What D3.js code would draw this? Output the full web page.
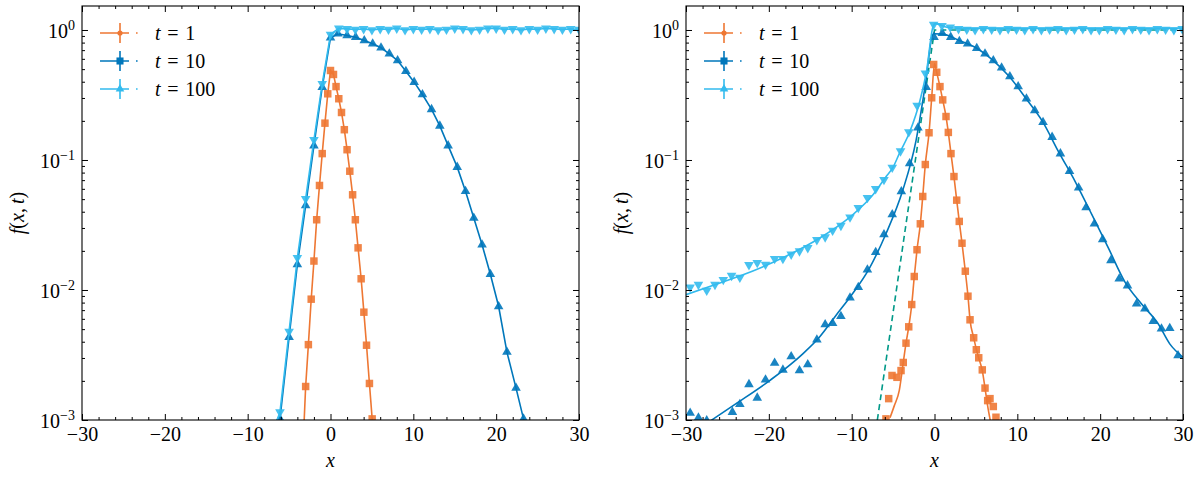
<!DOCTYPE html>
<html>
<head>
<meta charset="utf-8">
<script src="https://cdn.jsdelivr.net/npm/d3@7"></script>
<style>
  body { margin: 0; background: #fff; }
  svg text { font-family: "Liberation Serif", "DejaVu Serif", serif; fill: #000; }
</style>
</head>
<body>
<svg id="chart" width="1200" height="478"></svg>
<script>
// --- Data ---
const xTicks = [-30, -20, -10, 0, 10, 20, 30];
const xMinorTicks = d3.range(-30, 31, 2).filter(v => v % 10 !== 0);
const yTicks = [1e-3, 1e-2, 1e-1, 1];
const yTickExps = ["−3", "−2", "−1", "0"];
const yMinorTicks = [1e-3, 1e-2, 1e-1, 1].flatMap(d => d3.range(2, 10).map(m => m * d));
const legendLabels = ["1", "10", "100"];
const colors = ["#EE7733", "#0077BB", "#33BBEE"];
const dashColor = "#009988";

// left panel: lines through the points
const leftT1 = [[-3.33, 0.0006], [-3, 0.00181], [-2.67, 0.0038], [-2.33, 0.0085], [-2, 0.0167], [-1.67, 0.0347],
  [-1.33, 0.0637], [-1, 0.112], [-0.67, 0.192], [-0.33, 0.323], [0, 0.488], [0.36, 0.455], [0.67, 0.367],
  [1, 0.296], [1.33, 0.232], [1.67, 0.171], [2, 0.12], [2.33, 0.082], [2.67, 0.054], [3, 0.0347],
  [3.33, 0.0211], [3.7, 0.0122], [4.03, 0.00675], [4.35, 0.00376], [4.7, 0.00191], [5.03, 0.00102], [5.33, 0.0005]];
const leftT10 = [[-7, 0.0006], [-6.1, 0.00102], [-5, 0.00433], [-4, 0.0157], [-3, 0.0447], [-2, 0.129], [-1, 0.363],
  [0, 0.871], [0.9, 0.935], [2, 0.907], [3.04, 0.881], [4.08, 0.83], [5.09, 0.783], [6.1, 0.73], [7.1, 0.656],
  [8.1, 0.582], [9.1, 0.482], [10.1, 0.397], [11.1, 0.319], [12.2, 0.245], [13.2, 0.183], [14.2, 0.129],
  [15.3, 0.0881], [16.3, 0.0575], [17.3, 0.0358], [18.3, 0.0223], [19.3, 0.0132], [20.3, 0.00746],
  [21.3, 0.00333], [22.4, 0.00176], [23.3, 0.00102], [24.3, 0.0005]];
const leftT100 = [[-7, 0.0008], [-6.1, 0.00115], [-5, 0.0048], [-4, 0.0177], [-3, 0.0503], [-2, 0.143], [-1, 0.386],
  [0, 0.923], [1, 1.03], [2, 1.02], [3, 1.01], [4, 1.02], [5, 1.0], [6, 1.02], [7, 1.01], [8, 1.03], [9, 1.0],
  [10, 1.02], [11, 1.01], [12, 1.02], [13, 1.0], [14, 1.01], [15, 1.03], [16, 1.02], [17, 1.0], [18, 1.01],
  [19, 1.03], [20, 1.03], [21, 1.01], [22, 1.02], [23, 1.0], [24, 1.02], [25, 1.01], [26, 1.03], [27, 1.02],
  [28, 1.01], [29, 1.02], [30, 1.01]];

// right panel: scattered points plus fitted curves
const rightT1 = [[-5.86, 0.00102], [-5.53, 0.00146], [-5.13, 0.0022], [-4.53, 0.00213], [-4.04, 0.0024],
  [-3.77, 0.00277], [-3.44, 0.0039], [-3.11, 0.00521], [-2.75, 0.00773], [-2.44, 0.0127], [-2.11, 0.0204],
  [-1.71, 0.0323], [-1.42, 0.0524], [-1.11, 0.0923], [-0.66, 0.162], [-0.34, 0.301], [-0.1, 0.543],
  [0.27, 0.473], [0.66, 0.367], [0.99, 0.29], [1.39, 0.216], [1.67, 0.163], [1.99, 0.112], [2.35, 0.0746],
  [2.68, 0.0491], [2.99, 0.0337], [3.32, 0.0229], [3.72, 0.01395], [4.04, 0.00896], [4.29, 0.0059],
  [4.73, 0.00429], [5.05, 0.00347], [5.34, 0.00301], [5.77, 0.00243], [6.1, 0.00176], [6.42, 0.00141],
  [6.7, 0.00146], [7.1, 0.00127], [7.42, 0.00105]];
const rightT10 = [[-29.5, 0.00113], [-28.5, 0.00104], [-27.5, 0.00099], [-24.4, 0.00115], [-23.5, 0.00132],
  [-22.4, 0.00188], [-21.4, 0.00148], [-20.4, 0.00204], [-19.3, 0.00274], [-18.3, 0.00243], [-17.3, 0.00308],
  [-16.3, 0.0024], [-15.3, 0.00267], [-14.2, 0.00414], [-13.2, 0.00543], [-12.3, 0.00555], [-11.3, 0.00629],
  [-10.2, 0.00871], [-9.2, 0.0105], [-8.1, 0.0143], [-7.1, 0.0195], [-6.1, 0.0267], [-5.1, 0.0381],
  [-4.0, 0.0572], [-3.0, 0.094], [-2.0, 0.177], [-1.0, 0.363], [-0.06, 0.881], [0.94, 0.945], [1.96, 0.881],
  [3.0, 0.82], [4.0, 0.783], [5.1, 0.724], [6.1, 0.656], [7.1, 0.582], [8.1, 0.512], [9.1, 0.439],
  [10.1, 0.367], [11.1, 0.296], [12.1, 0.24], [13.1, 0.195], [14.2, 0.15], [15.2, 0.112], [16.3, 0.082],
  [17.4, 0.0611], [18.3, 0.0431], [19.3, 0.0323], [20.3, 0.0245], [21.3, 0.0169], [22.3, 0.0122],
  [23.3, 0.0108], [24.4, 0.00783], [25.4, 0.00717], [26.4, 0.00575], [27.4, 0.00503], [28.4, 0.00508],
  [29.4, 0.00313]];
const rightT100 = [[-29.5, 0.0105], [-28.5, 0.011], [-27.5, 0.0099], [-26.5, 0.011], [-25.5, 0.012], [-24.5, 0.0129],
  [-23.5, 0.0125], [-22.4, 0.0156], [-21.4, 0.0162], [-20.4, 0.0157], [-19.3, 0.0174], [-18.3, 0.0174],
  [-17.3, 0.0188], [-16.3, 0.0199], [-15.3, 0.0211], [-14.2, 0.0243], [-13.2, 0.0255], [-12.3, 0.0287],
  [-11.3, 0.0313], [-10.2, 0.0363], [-9.2, 0.0429], [-8.1, 0.0512], [-7.1, 0.06], [-6.1, 0.0704],
  [-5.1, 0.0875], [-4.1, 0.117], [-3.1, 0.164], [-2.1, 0.263], [-1.1, 0.465], [-0.1, 1.1], [0.9, 1.08],
  [1.9, 1.05], [2.9, 1.02], [3.9, 1.01], [4.9, 1.0], [5.9, 1.02], [6.9, 1.01], [7.9, 1.0], [8.9, 1.02],
  [9.9, 1.01], [10.9, 1.0], [11.9, 1.02], [12.9, 1.0], [13.9, 1.01], [14.9, 1.02], [15.9, 1.0], [16.9, 1.01],
  [17.9, 1.02], [18.9, 1.0], [19.9, 1.0], [20.9, 1.02], [21.9, 1.01], [22.9, 1.0], [23.9, 1.02], [24.9, 1.01],
  [25.9, 1.0], [26.9, 1.02], [27.9, 1.01], [28.9, 1.0], [29.9, 1.02]];

const fitT1 = [[-5.37, 0.00104], [-4.85, 0.00129], [-4.25, 0.00169], [-3.77, 0.00277], [-3.44, 0.0039],
  [-3.11, 0.0052], [-2.75, 0.0077], [-2.44, 0.0127], [-2.11, 0.0204], [-1.71, 0.0323], [-1.42, 0.0524],
  [-1.11, 0.0923], [-0.66, 0.162], [-0.34, 0.3], [0, 0.55], [0.27, 0.47], [0.66, 0.367], [0.99, 0.29],
  [1.39, 0.216], [1.67, 0.163], [1.99, 0.112], [2.35, 0.0746], [2.68, 0.0491], [2.99, 0.0337], [3.32, 0.0229],
  [3.72, 0.01395], [4.04, 0.009], [4.29, 0.0059], [4.73, 0.0043], [5.05, 0.0035], [5.34, 0.003],
  [5.77, 0.0024], [6.1, 0.00176], [6.4, 0.0013], [6.75, 0.00098]];
const fitT10 = [[-27, 0.00099], [-24, 0.00133], [-19.9, 0.00201], [-15.9, 0.00323], [-13.9, 0.00433],
  [-11.9, 0.00637], [-9.9, 0.00935], [-7.9, 0.01455], [-5.86, 0.0271], [-3.84, 0.0582], [-2.23, 0.141],
  [-1.15, 0.363], [-0.14, 0.935], [1, 0.93], [3, 0.83], [5, 0.73], [7, 0.59], [9, 0.44], [11, 0.3], [13, 0.2],
  [15, 0.115], [17, 0.068], [19, 0.038], [21, 0.021], [23, 0.0115], [25, 0.0078], [27, 0.0055],
  [28.4, 0.00385], [30, 0.00304]];
const fitT100 = [[-30, 0.0092], [-26, 0.01128], [-22, 0.01395], [-18, 0.0181], [-14, 0.0248], [-10, 0.0374],
  [-7.5, 0.0533], [-5.9, 0.0738], [-5, 0.088], [-4.25, 0.112], [-3, 0.164], [-1.75, 0.287], [-0.95, 0.488],
  [-0.2, 1.05], [0.1, 1.12], [1.5, 1.05], [3, 1.03], [30, 1.03]];
const dashedRef = [[-6.9, 0.001], [-5, 0.0067], [-3, 0.05], [-1, 0.37], [0, 1.0], [30, 1.0]];

// --- Layout ---
const svg = d3.select('#chart');
const W = 497, TOP = 6, BOTTOM = 420;
const FONT = 20;
const xDomain = [-30, 30];
const yDomain = [1e-3, Math.pow(10, 0.1846)];
const markers = [
  d3.symbol().type(d3.symbolSquare).size(56),
  d3.symbol().type(d3.symbolTriangle).size(40),
  d3.symbol().type(d3.symbolTriangle).size(40)
];

function drawPanel(id, left, pointSets, fitSets, dashed) {
  const x = d3.scaleLinear().domain(xDomain).range([left, left + W]);
  const y = d3.scaleLog().domain(yDomain).range([BOTTOM, TOP]);
  const g = svg.append('g');

  svg.append('clipPath').attr('id', 'clip' + id)
    .append('rect').attr('x', left).attr('y', TOP).attr('width', W).attr('height', BOTTOM - TOP);
  const plot = g.append('g').attr('clip-path', `url(#clip${id})`);

  const line = d3.line().x(d => x(d[0])).y(d => y(d[1]));
  const smooth = d3.line().x(d => x(d[0])).y(d => y(d[1])).curve(d3.curveMonotoneX);

  if (dashed) {
    plot.append('path').attr('d', line(dashed))
      .attr('fill', 'none').attr('stroke', dashColor).attr('stroke-width', 1.6)
      .attr('stroke-dasharray', '6,4');
  }

  pointSets.forEach((pts, i) => {
    if (!fitSets) {
      plot.append('path').attr('d', line(pts))
        .attr('fill', 'none').attr('stroke', colors[i]).attr('stroke-width', 1.6);
    }
    plot.selectAll(null).data(pts).join('path')
      .attr('d', markers[i])
      .attr('transform', d => `translate(${x(d[0])},${y(d[1])})` + (i === 2 ? ' rotate(180)' : ''))
      .attr('fill', colors[i]).attr('fill-opacity', 0.9);
    if (fitSets) {
      plot.append('path').attr('d', smooth(fitSets[i]))
        .attr('fill', 'none').attr('stroke', colors[i]).attr('stroke-width', 1.6);
    }
  });

  // --- Axes: inward ticks on all sides ---
  const axes = g.append('g').attr('class', 'axes');
  const addAxis = (axis, tx, ty) => axes.append('g').attr('transform', `translate(${tx},${ty})`).call(axis);
  const style = sel => {
    sel.select('.domain').remove();
    sel.selectAll('line').attr('stroke', '#000').attr('stroke-width', 1);
  };

  addAxis(d3.axisBottom(x).tickValues(xTicks).tickSize(-6).tickPadding(7)
    .tickFormat(d => d < 0 ? '−' + Math.abs(d) : d), 0, BOTTOM)
    .call(style).selectAll('text').attr('font-size', FONT).attr('fill', '#000').attr('font-family', null);
  addAxis(d3.axisBottom(x).tickValues(xMinorTicks).tickSize(-3).tickFormat(''), 0, BOTTOM).call(style);
  addAxis(d3.axisTop(x).tickValues(xTicks).tickSize(-6).tickFormat(''), 0, TOP).call(style);
  addAxis(d3.axisTop(x).tickValues(xMinorTicks).tickSize(-3).tickFormat(''), 0, TOP).call(style);

  const yl = addAxis(d3.axisLeft(y).tickValues(yTicks).tickSize(-6).tickFormat(''), left, 0).call(style);
  yl.selectAll('.tick text')
    .attr('font-size', FONT).attr('fill', '#000').attr('font-family', null)
    .attr('dy', '0.36em').attr('x', -7).attr('text-anchor', 'end')
    .each(function(d, i) {
      const t = d3.select(this);
      t.text('10');
      t.append('tspan').attr('dy', -8).attr('font-size', 14).text(yTickExps[i]);
    });
  addAxis(d3.axisLeft(y).tickValues(yMinorTicks).tickSize(-3).tickFormat(''), left, 0).call(style);
  addAxis(d3.axisRight(y).tickValues(yTicks).tickSize(-6).tickFormat(''), left + W, 0).call(style);
  addAxis(d3.axisRight(y).tickValues(yMinorTicks).tickSize(-3).tickFormat(''), left + W, 0).call(style);

  axes.append('rect').attr('x', left).attr('y', TOP).attr('width', W).attr('height', BOTTOM - TOP)
    .attr('fill', 'none').attr('stroke', '#000').attr('stroke-width', 1.1);

  // --- Axis labels ---
  g.append('text').attr('x', left + W / 2).attr('y', 467).attr('text-anchor', 'middle')
    .attr('font-size', FONT).attr('font-style', 'italic').text('x');
  const yLab = g.append('text').attr('transform', `translate(${left - 58},${(TOP + BOTTOM) / 2}) rotate(-90)`)
    .attr('text-anchor', 'middle').attr('font-size', FONT);
  [['f', true], ['(', false], ['x', true], [',\u2009', false], ['t', true], [')', false]].forEach(([s, it]) =>
    yLab.append('tspan').attr('font-style', it ? 'italic' : 'normal').text(s));

  // --- Legend ---
  const leg = g.append('g').attr('transform', `translate(${left + 18},33)`);
  legendLabels.forEach((lab, i) => {
    const row = leg.append('g').attr('transform', `translate(0,${i * 28})`);
    row.append('path').attr('d', 'M0,0H39').attr('stroke', colors[i]).attr('stroke-width', 1.6)
      .attr('stroke-dasharray', '29,7,1.6,10');
    row.append('line').attr('x1', 20).attr('x2', 20).attr('y1', -10).attr('y2', 10)
      .attr('stroke', colors[i]).attr('stroke-width', 1.6);
    if (i === 0) row.append('circle').attr('cx', 20).attr('r', 2.6).attr('fill', colors[i]);
    if (i === 1) row.append('path').attr('d', d3.symbol().type(d3.symbolSquare).size(50)())
      .attr('transform', 'translate(20,0)').attr('fill', colors[i]);
    if (i === 2) row.append('path').attr('d', d3.symbol().type(d3.symbolTriangle).size(32)())
      .attr('transform', 'translate(20,0)').attr('fill', colors[i]);
    const txt = row.append('text').attr('x', 55).attr('y', 7).attr('font-size', FONT);
    txt.append('tspan').attr('font-style', 'italic').text('t');
    txt.append('tspan').text('\u2004=\u2004' + lab);
  });
}

drawPanel('L', 82, [leftT1, leftT10, leftT100], null, null);
drawPanel('R', 686, [rightT1, rightT10, rightT100], [fitT1, fitT10, fitT100], dashedRef);
</script>
</body>
</html>
